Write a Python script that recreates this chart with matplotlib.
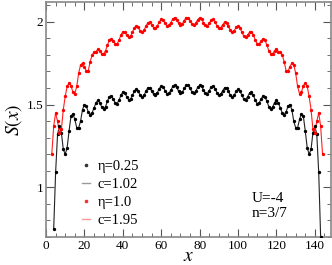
import numpy as np
import matplotlib
matplotlib.use("Agg")
import matplotlib.pyplot as plt
from matplotlib.ticker import MultipleLocator

# eta = 0.25 data (sites 4..143)
black_vals = [0.75, 1.09, 1.32, 1.37, 1.33, 1.23, 1.20, 1.24, 1.34, 1.43, 1.445, 1.41, 1.36, 1.36, 1.40, 1.47, 1.50, 1.49, 1.455, 1.44, 1.45, 1.48,
              1.510, 1.526, 1.512, 1.486, 1.474, 1.488, 1.521, 1.548, 1.552, 1.533, 1.511, 1.506, 1.526, 1.556, 1.575, 1.570, 1.548, 1.530, 1.533, 1.556,
              1.582, 1.592, 1.580, 1.557, 1.545, 1.555, 1.580, 1.601, 1.602, 1.584, 1.563, 1.558, 1.573, 1.597, 1.612, 1.606, 1.585, 1.567, 1.568, 1.587,
              1.610, 1.617, 1.604, 1.582, 1.569, 1.576, 1.598, 1.616,
              1.616, 1.598, 1.576, 1.569, 1.582, 1.604, 1.617, 1.610, 1.587, 1.568, 1.567, 1.585, 1.606, 1.612, 1.597, 1.573, 1.558, 1.563, 1.584, 1.602,
              1.601, 1.580, 1.555, 1.545, 1.557, 1.580, 1.592, 1.582, 1.556, 1.533, 1.530, 1.548, 1.570, 1.575, 1.556, 1.526, 1.506, 1.511, 1.533, 1.552,
              1.548, 1.521, 1.488, 1.474, 1.486, 1.512, 1.526, 1.510,
              1.48, 1.45, 1.44, 1.455, 1.49, 1.50, 1.47, 1.40, 1.36, 1.36, 1.41, 1.445, 1.43, 1.34, 1.24, 1.20, 1.23, 1.33, 1.37, 1.32, 1.09, 0.70]
black_start = 4

# eta = 1.0 data (sites 3..144)
red_vals = [1.20, 1.37, 1.45, 1.40, 1.33, 1.35, 1.47, 1.55, 1.61, 1.63, 1.615, 1.575, 1.565, 1.61, 1.69, 1.74, 1.75, 1.73, 1.70, 1.705, 1.76, 1.80, 1.815,
            1.820, 1.835, 1.825, 1.806, 1.808, 1.826, 1.860, 1.890, 1.898, 1.884, 1.867, 1.867, 1.889, 1.920, 1.940, 1.938, 1.921, 1.907, 1.912, 1.937,
            1.963, 1.975, 1.966, 1.947, 1.938, 1.949, 1.973, 1.994, 1.998, 1.983, 1.965, 1.961, 1.976, 2.000, 2.015, 2.010, 1.991, 1.976, 1.978, 1.996,
            2.017, 2.025, 2.013, 1.993, 1.981, 1.988, 2.008, 2.026,
            2.026, 2.008, 1.988, 1.981, 1.993, 2.013, 2.025, 2.017, 1.996, 1.978, 1.976, 1.991, 2.010, 2.015, 2.000, 1.976, 1.961, 1.965, 1.983, 1.998,
            1.994, 1.973, 1.949, 1.938, 1.947, 1.966, 1.975, 1.963, 1.937, 1.912, 1.907, 1.921, 1.938, 1.940, 1.920, 1.889, 1.867, 1.867, 1.884, 1.898,
            1.890, 1.860, 1.826, 1.808, 1.806, 1.825, 1.835, 1.820,
            1.815, 1.80, 1.76, 1.705, 1.70, 1.73, 1.75, 1.74, 1.69, 1.61, 1.565, 1.575, 1.615, 1.63, 1.61, 1.55, 1.47, 1.35, 1.33, 1.40, 1.45, 1.37, 1.20]
red_start = 3

labels = ["η=0.25", "c=1.02", "η=1.0", "c=1.95"]
xticks = [0, 20, 40, 60, 80, 100, 120, 140]
yticks = [1, 1.5, 2]

plt.rcParams['font.family'] = ['Liberation Serif', 'DejaVu Serif']
plt.rcParams['mathtext.fontset'] = 'stix'

fig = plt.figure(figsize=(3.32, 2.65), dpi=100)
ax = fig.add_axes([0.1386, 0.1057, 0.8584, 0.8868])

xb = np.arange(black_start, black_start + len(black_vals))
xr = np.arange(red_start, red_start + len(red_vals))

ax.plot(xb, black_vals, ls='-', lw=0.8, color='#222222', zorder=2)
ax.plot(xr, red_vals, ls='-', lw=0.8, color='#ff2020', zorder=2)
ax.plot(xb, black_vals, ls='none', marker='o', ms=1.4, color='black', zorder=3)
ax.plot(xr, red_vals, ls='none', marker='o', ms=1.4, color='red', zorder=3)

# legend proxies
h1, = ax.plot([], [], ls='none', marker='o', ms=1.6, color='#333333')
h2, = ax.plot([], [], ls='-', lw=1.0, color='#999999')
h3, = ax.plot([], [], ls='none', marker='s', ms=1.8, color='#ff3030')
h4, = ax.plot([], [], ls='-', lw=1.0, color='#ff9999')

ax.set_xlim(0, 148.4)
ax.set_ylim(0.7, 2.12)
ax.set_xticks(xticks)
ax.set_yticks(yticks)
ax.set_yticklabels(["1", "1.5", "2"])
ax.xaxis.set_minor_locator(MultipleLocator(5))
ax.yaxis.set_minor_locator(MultipleLocator(0.1))
ax.tick_params(which='both', direction='in', top=True, right=True, labelsize=9.5, color='#555555', pad=2)
ax.tick_params(which='major', length=6)
ax.tick_params(which='minor', length=3)
for s in ax.spines.values():
    s.set_color('#888888')
    s.set_linewidth(1.2)

ax.set_xlabel('$x$', fontsize=14, labelpad=-3)
ax.set_ylabel('$S(x)$', fontsize=14, labelpad=2)

leg = ax.legend([h1, h2, h3, h4], labels, loc='upper left', bbox_to_anchor=(0.128, 0.327),
                frameon=False, fontsize=10.5, handlelength=0.5, handletextpad=0.55,
                labelspacing=0.32, borderaxespad=0, borderpad=0)

ax.text(0.72, 0.149, "U=-4", transform=ax.transAxes, fontsize=11)
ax.text(0.72, 0.085, "n=3/7", transform=ax.transAxes, fontsize=11)

fig.savefig("out.png", dpi=100)
